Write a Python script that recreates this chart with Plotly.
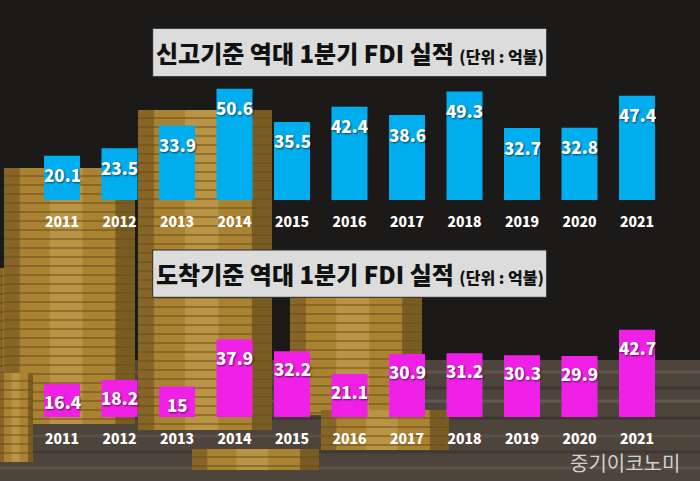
import plotly.graph_objects as go

# ---------------- data ----------------
years = ["2011", "2012", "2013", "2014", "2015", "2016", "2017", "2018", "2019", "2020", "2021"]
shingo = [20.1, 23.5, 33.9, 50.6, 35.5, 42.4, 38.6, 49.3, 32.7, 32.8, 47.4]   # 신고기준
dochak = [16.4, 18.2, 15, 37.9, 32.2, 21.1, 30.9, 31.2, 30.3, 29.9, 42.7]     # 도착기준
title_top = "신고기준 역대 1분기 FDI 실적"
title_bottom = "도착기준 역대 1분기 FDI 실적"
unit_text = "(단위 : 억불)"
watermark = "중기이코노미"

W, H = 700, 481
BLUE = "#00AEEF"
MAGENTA = "#F020E6"
FONT = "Noto Sans CJK KR"

def fx(px):
    return px / W

def fy(px):
    return 1 - px / H

idx = list(range(len(years)))
fig = go.Figure()

fig.add_trace(go.Bar(x=idx, y=shingo, marker=dict(color=BLUE, line=dict(width=0)),
                     width=0.626, xaxis="x", yaxis="y", hoverinfo="skip"))
fig.add_trace(go.Bar(x=idx, y=dochak, marker=dict(color=MAGENTA, line=dict(width=0)),
                     width=0.626, xaxis="x2", yaxis="y2", hoverinfo="skip"))

annotations = []
shadow = "1px 1px 2px rgba(0,0,0,0.6)"
for i, v in zip(idx, shingo):
    annotations.append(dict(x=i, y=v, xref="x", yref="y", text=f"{v}", showarrow=False,
                            yanchor="middle", yshift=-19,
                            font=dict(family=FONT, size=17, color="white", weight=900, shadow=shadow)))
for i, v in zip(idx, dochak):
    annotations.append(dict(x=i, y=v, xref="x2", yref="y2", text=f"{v}", showarrow=False,
                            yanchor="middle", yshift=-17.5,
                            font=dict(family=FONT, size=17, color="white", weight=900, shadow=shadow)))

# titles
for title, yc in [(title_top, 52.5), (title_bottom, 273.5)]:
    annotations.append(dict(x=fx(349.7), y=fy(yc), xref="paper", yref="paper", showarrow=False,
                            xanchor="center", yanchor="middle",
                            text=f"{title} <span style='font-size:16px'>{unit_text}</span>",
                            font=dict(family=FONT, size=24, color="#111111", weight=900)))
annotations.append(dict(x=fx(625), y=fy(462.5), xref="paper", yref="paper", showarrow=False,
                        xanchor="center", yanchor="middle", text=watermark,
                        font=dict(family=FONT, size=20, color="rgba(235,235,235,0.85)")))

shapes = []
def rect(x0, x1, y0, y1, color, line=None, layer="below", opacity=1.0):
    shapes.append(dict(type="rect", xref="paper", yref="paper", x0=fx(x0), x1=fx(x1),
                       y0=fy(y1), y1=fy(y0), fillcolor=color, opacity=opacity,
                       line=dict(width=line[1], color=line[0]) if line else dict(width=0),
                       layer=layer))

def hline(x0, x1, y, color, w=1):
    shapes.append(dict(type="line", xref="paper", yref="paper", x0=fx(x0), x1=fx(x1),
                       y0=fy(y), y1=fy(y), line=dict(color=color, width=w), layer="below"))

# background: table
rect(0, 700, 360, 481, "#4d443c")
for yy, c in [(372, "#5e544a"), (388, "#3f3832"), (401, "#63584d"), (418, "#3d362f"),
              (436, "#5a5046"), (452, "#403932"), (468, "#5d5248")]:
    hline(0, 700, yy, c, 3)

# coin stacks (decorative)
stacks = [(0, 28, 268, 372), (4, 135, 168, 424), (138, 272, 110, 430),
          (290, 422, 297, 415), (321, 449, 410, 450), (192, 319, 449, 470), (0, 33, 373, 462)]
for (x0, x1, y0, y1) in stacks:
    rect(x0, x1, y0, y1, "#A98232")
    rect(x0, x0 + (x1 - x0) * 0.12, y0, y1, "#6f521e", opacity=0.6)
    rect(x1 - (x1 - x0) * 0.15, x1, y0, y1, "#5a4318", opacity=0.6)
    rect(x0 + (x1 - x0) * 0.35, x0 + (x1 - x0) * 0.6, y0, y1, "#D2AE5E", opacity=0.4)
    yy = y0 + 8
    while yy < y1:
        hline(x0, x1, yy, "#6a4f1d", 1.2)
        yy += 9

# title boxes
rect(152.7, 546.7, 28.3, 76.7, "#DCDCDC", line=("#2a2a2a", 1), layer="above")
rect(152.7, 546.7, 250, 297.3, "#DCDCDC", line=("#2a2a2a", 1), layer="above")

xr = [-62 / 57.5, (700 - 62) / 57.5]
axis_common = dict(range=xr, tickvals=idx, ticktext=years, showgrid=False, zeroline=False,
                   showline=False, ticks="outside", ticklen=9, tickcolor="rgba(0,0,0,0)",
                   tickfont=dict(family=FONT, size=14, color="white", weight=900),
                   fixedrange=True)

fig.update_layout(
    width=W, height=H,
    margin=dict(l=0, r=0, t=0, b=0),
    paper_bgcolor="#1b1a19",
    plot_bgcolor="rgba(0,0,0,0)",
    showlegend=False,
    barmode="overlay",
    xaxis=dict(domain=[0, 1], anchor="y", **axis_common),
    xaxis2=dict(domain=[0, 1], anchor="y2", **axis_common),
    yaxis=dict(domain=[fy(200), 1], range=[0, 200 / 2.2], visible=False, fixedrange=True),
    yaxis2=dict(domain=[fy(417.3), fy(310)], range=[0, 107.3 / 2.05], visible=False, fixedrange=True),
    annotations=annotations,
    shapes=shapes,
)

fig.write_html("out.html", config={"displayModeBar": False},
               post_script="document.body.style.margin='0';document.body.style.overflow='hidden';")
